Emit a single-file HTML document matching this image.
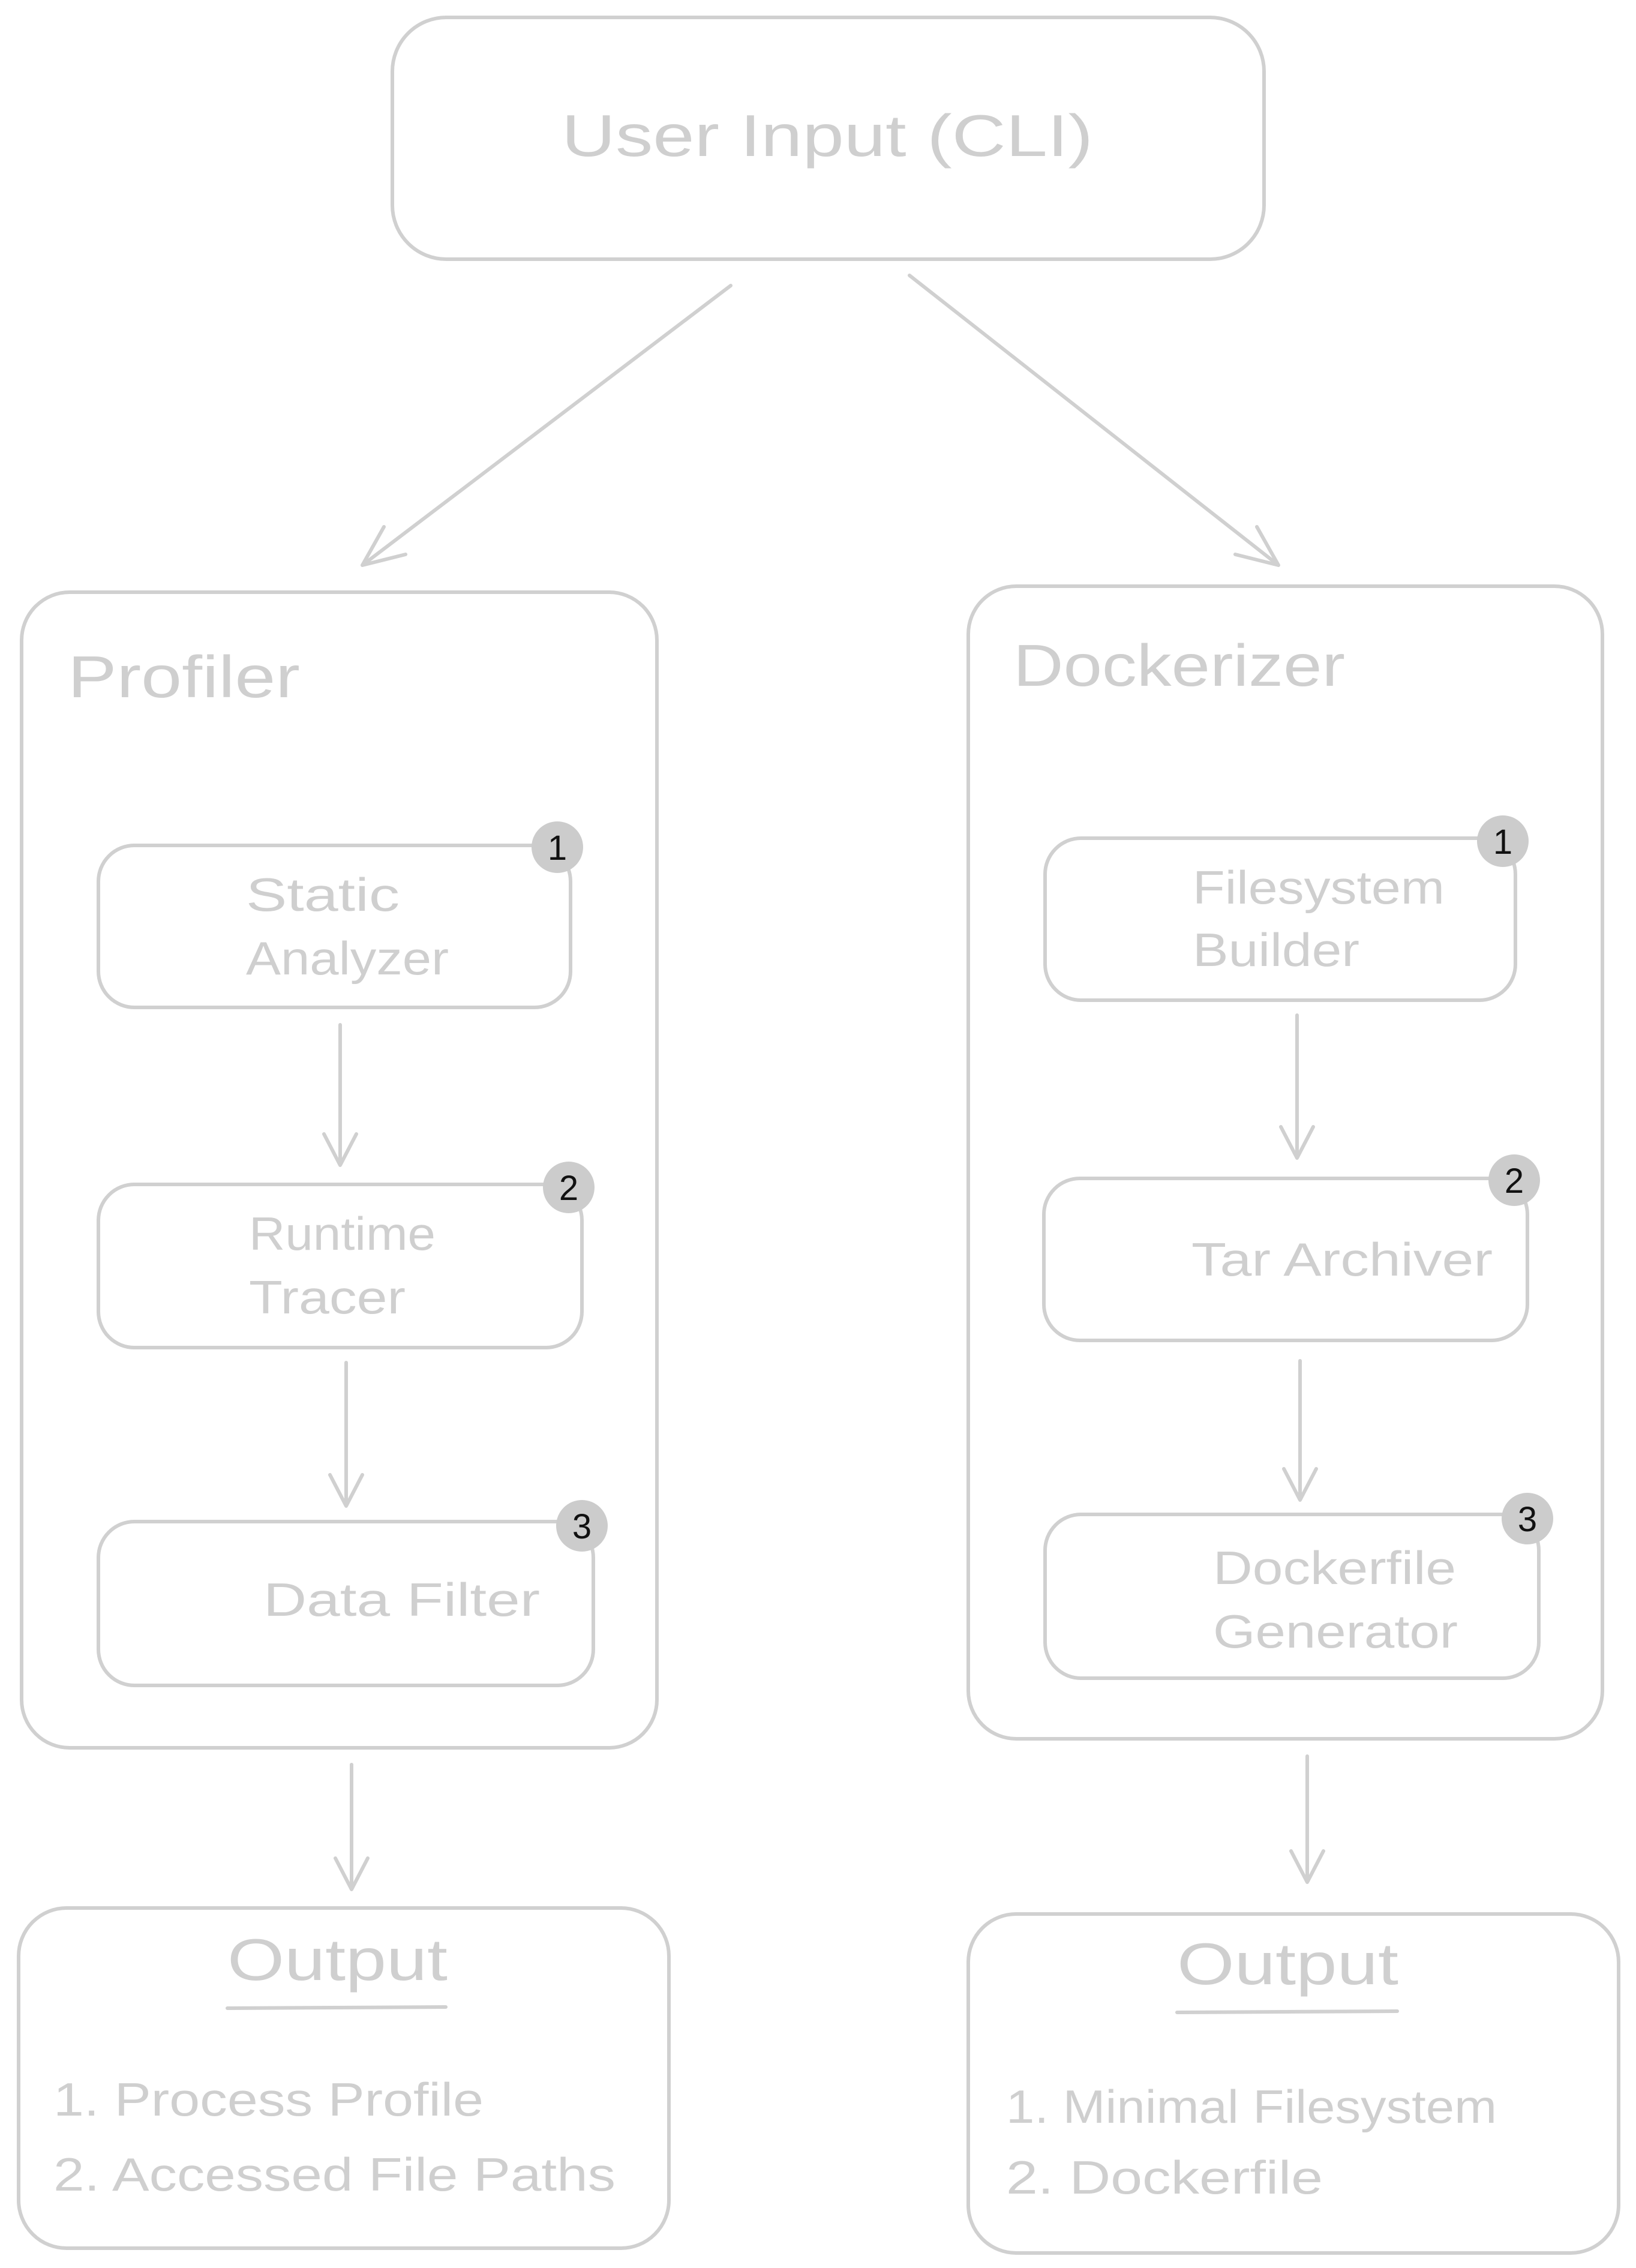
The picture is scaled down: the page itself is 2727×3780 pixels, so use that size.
<!DOCTYPE html>
<html><head><meta charset="utf-8"><style>
html,body{margin:0;padding:0;background:#fff;}
svg{display:block;}
text{font-family:"Liberation Sans",sans-serif;fill:#cfcfcf;}
.b{fill:none;stroke:#d0d0d0;stroke-width:6;}
.a{fill:none;stroke:#d0d0d0;stroke-width:6;stroke-linecap:round;stroke-linejoin:round;}
.bd{fill:#cccccc;}
.bn{fill:#111;font-size:58px;text-anchor:middle;}
</style></head><body>
<svg width="2727" height="3780" viewBox="0 0 2727 3780" xmlns="http://www.w3.org/2000/svg">
<rect width="2727" height="3780" fill="#fff"/>
<rect class="b" x="654" y="29" width="1453" height="403" rx="90"/>
<text x="936" y="260" font-size="98" textLength="886" lengthAdjust="spacingAndGlyphs">User Input (CLI)</text>
<path class="a" d="M1218 476 L604 942 M604 942 L676 924 M604 942 L640 878"/>
<path class="a" d="M1516 459 L2131 942 M2131 942 L2095 878 M2131 942 L2059 924"/>
<rect class="b" x="36" y="987" width="1059" height="1926" rx="80"/>
<text x="113" y="1162" font-size="98" textLength="387" lengthAdjust="spacingAndGlyphs">Profiler</text>
<rect class="b" x="1614" y="977" width="1057" height="1921" rx="80"/>
<text x="1689" y="1143" font-size="98" textLength="553" lengthAdjust="spacingAndGlyphs">Dockerizer</text>
<rect class="b" x="164" y="1409" width="787" height="270" rx="60"/>
<text x="410" y="1518" font-size="78" textLength="256" lengthAdjust="spacingAndGlyphs">Static</text>
<text x="410" y="1624" font-size="78" textLength="338" lengthAdjust="spacingAndGlyphs">Analyzer</text>
<circle class="bd" cx="929" cy="1412" r="43"/><text class="bn" x="929" y="1433">1</text>
<path class="a" d="M567 1708 L567 1942 M567 1942 L540 1890 M567 1942 L594 1890"/>
<rect class="b" x="164" y="1974" width="806" height="272" rx="60"/>
<text x="415" y="2083" font-size="78" textLength="311" lengthAdjust="spacingAndGlyphs">Runtime</text>
<text x="415" y="2189" font-size="78" textLength="261" lengthAdjust="spacingAndGlyphs">Tracer</text>
<circle class="bd" cx="948" cy="1979" r="43"/><text class="bn" x="948" y="2000">2</text>
<path class="a" d="M577 2271 L577 2510 M577 2510 L550 2458 M577 2510 L604 2458"/>
<rect class="b" x="164" y="2536" width="825" height="273" rx="60"/>
<text x="439" y="2693" font-size="78" textLength="461" lengthAdjust="spacingAndGlyphs">Data Filter</text>
<circle class="bd" cx="970" cy="2543" r="43"/><text class="bn" x="970" y="2564">3</text>
<rect class="b" x="1742" y="1397" width="784" height="270" rx="60"/>
<text x="1988" y="1506" font-size="78" textLength="420" lengthAdjust="spacingAndGlyphs">Filesystem</text>
<text x="1988" y="1610" font-size="78" textLength="278" lengthAdjust="spacingAndGlyphs">Builder</text>
<circle class="bd" cx="2505" cy="1402" r="43"/><text class="bn" x="2505" y="1423">1</text>
<path class="a" d="M2162 1692 L2162 1930 M2162 1930 L2135 1878 M2162 1930 L2189 1878"/>
<rect class="b" x="1740" y="1964" width="806" height="270" rx="60"/>
<text x="1986" y="2126" font-size="78" textLength="502" lengthAdjust="spacingAndGlyphs">Tar Archiver</text>
<circle class="bd" cx="2524" cy="1967" r="43"/><text class="bn" x="2524" y="1988">2</text>
<path class="a" d="M2167 2268 L2167 2500 M2167 2500 L2140 2448 M2167 2500 L2194 2448"/>
<rect class="b" x="1742" y="2524" width="823" height="273" rx="60"/>
<text x="2022" y="2640" font-size="78" textLength="405" lengthAdjust="spacingAndGlyphs">Dockerfile</text>
<text x="2022" y="2746" font-size="78" textLength="408" lengthAdjust="spacingAndGlyphs">Generator</text>
<circle class="bd" cx="2546" cy="2531" r="43"/><text class="bn" x="2546" y="2552">3</text>
<path class="a" d="M586 2941 L586 3149 M586 3149 L559 3097 M586 3149 L613 3097"/>
<path class="a" d="M2179 2927 L2179 3137 M2179 3137 L2152 3085 M2179 3137 L2206 3085"/>
<rect class="b" x="31" y="3180" width="1084" height="567" rx="80"/>
<text x="379" y="3300" font-size="98" textLength="367" lengthAdjust="spacingAndGlyphs">Output</text>
<path class="a" d="M379 3347 L743 3345"/>
<text x="89" y="3526" font-size="78" textLength="717" lengthAdjust="spacingAndGlyphs">1. Process Profile</text>
<text x="89" y="3651" font-size="78" textLength="937" lengthAdjust="spacingAndGlyphs">2. Accessed File Paths</text>
<rect class="b" x="1614" y="3190" width="1084" height="565" rx="80"/>
<text x="1962" y="3307" font-size="98" textLength="369" lengthAdjust="spacingAndGlyphs">Output</text>
<path class="a" d="M1962 3354 L2329 3352"/>
<text x="1677" y="3538" font-size="78" textLength="818" lengthAdjust="spacingAndGlyphs">1. Minimal Filesystem</text>
<text x="1677" y="3656" font-size="78" textLength="528" lengthAdjust="spacingAndGlyphs">2. Dockerfile</text>
</svg>
</body></html>
